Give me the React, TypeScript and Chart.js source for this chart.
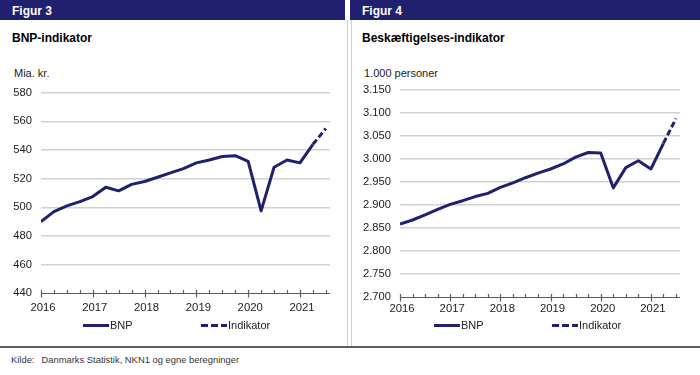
import React, { useEffect, useRef } from "react";
import { Chart, registerables } from "chart.js";

Chart.register(...registerables);

// ---------- data ----------
const QUARTERS = [
  "2016K1", "2016K2", "2016K3", "2016K4",
  "2017K1", "2017K2", "2017K3", "2017K4",
  "2018K1", "2018K2", "2018K3", "2018K4",
  "2019K1", "2019K2", "2019K3", "2019K4",
  "2020K1", "2020K2", "2020K3", "2020K4",
  "2021K1", "2021K2", "2021K3",
];

// Figur 3: BNP, mia. kr.
const GDP_BNP = [
  490, 497, 501, 504,
  507.5, 514, 511.5, 516,
  518, 521, 524, 527,
  531, 533, 535.5, 536,
  532, 497.5, 528, 533,
  531, 544, null,
];
const GDP_INDIKATOR = [
  null, null, null, null,
  null, null, null, null,
  null, null, null, null,
  null, null, null, null,
  null, null, null, null,
  null, 544, 555,
];
const GDP_Y_TICKS = [440, 460, 480, 500, 520, 540, 560, 580];

// Figur 4: Beskæftigelse, 1.000 personer
const EMP_BNP = [
  2858, 2867, 2878, 2890,
  2901, 2909, 2918, 2925,
  2938, 2948, 2959, 2969,
  2978, 2989, 3004, 3014,
  3013, 2937, 2981, 2996,
  2978, 3034, null,
];
const EMP_INDIKATOR = [
  null, null, null, null,
  null, null, null, null,
  null, null, null, null,
  null, null, null, null,
  null, null, null, null,
  null, 3034, 3088,
];
const EMP_Y_TICKS = [2700, 2750, 2800, 2850, 2900, 2950, 3000, 3050, 3100, 3150];

const YEAR_LABELS = ["2016", "2017", "2018", "2019", "2020", "2021"];
const SERIES_NAMES = ["BNP", "Indikator"];
const SOURCE = "Danmarks Statistik, NKN1 og egne beregninger";

// ---------- style ----------
const NAVY = "#20206e";
const FONT = "'Liberation Sans', Arial, Helvetica, sans-serif";
const GRID = "#d2d2d2";
const AXIS = "#5a5a72";
const TEXT = "#222222";

function quarterToX(q: string): number {
  const year = parseInt(q.slice(0, 4), 10);
  const k = parseInt(q.slice(5), 10);
  return year + (k - 1) / 4;
}

const axisPlugin = {
  id: "excelAxis",
  afterDraw(chart: any) {
    const { ctx, chartArea, scales } = chart;
    const xs = scales.x;
    const y = Math.round(chartArea.bottom) + 0.5;
    ctx.save();
    ctx.strokeStyle = AXIS;
    ctx.lineWidth = 1.2;
    ctx.beginPath();
    ctx.moveTo(chartArea.left, y);
    ctx.lineTo(chartArea.right, y);
    ctx.stroke();
    let i = 0;
    for (let v = xs.min; v <= xs.max + 1e-9; v += 0.25, i++) {
      const px = Math.round(xs.getPixelForValue(v)) + 0.5;
      ctx.beginPath();
      if (i % 4 === 0) {
        ctx.moveTo(px, y - 3.5);
        ctx.lineTo(px, y + 4);
      } else {
        ctx.moveTo(px, y - 3.5);
        ctx.lineTo(px, y);
      }
      ctx.stroke();
    }
    ctx.restore();
  },
};

type PanelChartProps = {
  bnp: (number | null)[];
  indikator: (number | null)[];
  yTicks: number[];
  format: (v: number) => string;
  width: number;
  height: number;
  yWidth: number;
  xHeight: number;
  xPad: number;
  padTop: number;
  padRight: number;
};

function PanelChart(p: PanelChartProps) {
  const ref = useRef<HTMLCanvasElement | null>(null);
  useEffect(() => {
    if (!ref.current) return;
    const xs = QUARTERS.map(quarterToX);
    const yMin = p.yTicks[0];
    const yMax = p.yTicks[p.yTicks.length - 1];
    const step = p.yTicks[1] - p.yTicks[0];
    const firstYear = parseInt(YEAR_LABELS[0], 10);
    const chart = new Chart(ref.current, {
      type: "line",
      data: {
        datasets: [
          {
            label: SERIES_NAMES[0],
            data: xs.map((x, i) => ({ x, y: p.bnp[i] })) as any,
            borderColor: NAVY,
            borderWidth: 3,
            pointRadius: 0,
            tension: 0,
            borderJoinStyle: "round",
            spanGaps: false,
          },
          {
            label: SERIES_NAMES[1],
            data: xs.map((x, i) => ({ x, y: p.indikator[i] })) as any,
            borderColor: NAVY,
            borderWidth: 3,
            borderDash: [6, 3],
            pointRadius: 0,
            tension: 0,
            spanGaps: false,
          },
        ],
      },
      options: {
        animation: false,
        responsive: false,
        devicePixelRatio: 1,
        layout: { padding: { top: p.padTop, right: p.padRight, left: 0, bottom: 0 } },
        plugins: { legend: { display: false }, tooltip: { enabled: false } },
        events: [],
        scales: {
          x: {
            type: "linear",
            min: firstYear,
            max: firstYear + 5.58,
            grid: { display: false, drawTicks: false },
            border: { display: false },
            ticks: {
              stepSize: 1,
              includeBounds: false,
              autoSkip: false,
              maxRotation: 0,
              padding: p.xPad,
              labelOffset: 2,
              color: TEXT,
              font: { family: FONT, size: 11.3 },
              callback: (v: any) => {
                const s = String(v);
                return YEAR_LABELS.includes(s) ? s : "";
              },
            },
            afterFit: (s: any) => {
              s.height = p.xHeight;
            },
          },
          y: {
            type: "linear",
            min: yMin,
            max: yMax,
            grid: {
              drawTicks: true,
              tickLength: 9,
              tickColor: "rgba(0,0,0,0)",
              lineWidth: 1.4,
              color: (c: any) => (c.tick && c.tick.value === yMin ? "rgba(0,0,0,0)" : GRID),
            },
            border: { display: false },
            ticks: {
              stepSize: step,
              padding: 0,
              color: TEXT,
              font: { family: FONT, size: 11.2 },
              callback: (v: any) => p.format(Number(v)),
            },
            afterFit: (s: any) => {
              s.width = p.yWidth;
            },
          },
        },
      },
      plugins: [axisPlugin],
    });
    return () => chart.destroy();
  }, []);
  return (
    <canvas
      ref={ref}
      width={p.width}
      height={p.height}
      style={{ width: p.width, height: p.height, display: "block" }}
    />
  );
}

function LegendLine({ dashed }: { dashed: boolean }) {
  return (
    <div
      style={{
        position: "absolute",
        top: -1.5,
        left: 0,
        width: 26,
        height: 3,
        background: dashed
          ? `repeating-linear-gradient(90deg, ${NAVY} 0px, ${NAVY} 7px, transparent 7px, transparent 10px)`
          : NAVY,
      }}
    />
  );
}

type PanelProps = {
  left: number;
  width: number;
  fig: string;
  title: string;
  unit: string;
  legendX: [number, number];
  chart: PanelChartProps;
};

function Panel(p: PanelProps) {
  const txt = (extra: React.CSSProperties): React.CSSProperties => ({
    position: "absolute",
    fontFamily: FONT,
    whiteSpace: "nowrap",
    ...extra,
  });
  return (
    <div style={{ position: "absolute", left: p.left, top: 0, width: p.width, height: 346 }}>
      <div style={{ position: "absolute", left: 0, top: 0, width: p.width, height: 20, background: NAVY }} />
      <div style={txt({ left: 12, top: 4, fontSize: 12, lineHeight: "14px", fontWeight: "bold", color: "#fff" })}>
        {p.fig}
      </div>
      <div style={txt({ left: 12, top: 31, fontSize: 12, lineHeight: "14px", fontWeight: "bold", color: "#000" })}>
        {p.title}
      </div>
      <div style={txt({ left: 14, top: 66.7, fontSize: 11, lineHeight: "13px", color: TEXT })}>{p.unit}</div>
      <div style={{ position: "absolute", left: 0, top: 80 }}>
        <PanelChart {...p.chart} />
      </div>
      {SERIES_NAMES.map((name, i) => (
        <div key={name} style={{ position: "absolute", left: p.legendX[i], top: 325.7 }}>
          <LegendLine dashed={i === 1} />
          <div style={txt({ left: 27, top: -6.5, fontSize: 11, lineHeight: "13px", color: TEXT })}>{name}</div>
        </div>
      ))}
    </div>
  );
}

export default function App() {
  useEffect(() => {
    document.body.style.margin = "0";
  }, []);
  const gdpFmt = (v: number) => String(v);
  const empFmt = (v: number) => (v / 1000).toFixed(3);
  return (
    <div style={{ position: "absolute", left: 0, top: 0, width: 700, height: 375, background: "#fff", overflow: "hidden" }}>
      <Panel
        left={0}
        width={345}
        fig="Figur 3"
        title="BNP-indikator"
        unit="Mia. kr."
        legendX={[83, 201]}
        chart={{
          bnp: GDP_BNP,
          indikator: GDP_INDIKATOR,
          yTicks: GDP_Y_TICKS,
          format: gdpFmt,
          width: 345,
          height: 240,
          yWidth: 41,
          xHeight: 26.7,
          xPad: 7.5,
          padTop: 12.7,
          padRight: 15,
        }}
      />
      <Panel
        left={350}
        width={350}
        fig="Figur 4"
        title="Beskæftigelses-indikator"
        unit="1.000 personer"
        legendX={[84, 202]}
        chart={{
          bnp: EMP_BNP,
          indikator: EMP_INDIKATOR,
          yTicks: EMP_Y_TICKS,
          format: empFmt,
          width: 350,
          height: 240,
          yWidth: 50,
          xHeight: 23.3,
          xPad: 5.5,
          padTop: 10,
          padRight: 20,
        }}
      />
      <div style={{ position: "absolute", left: 347, top: 20, width: 1, height: 326, background: "#cfcfcf" }} />
      <div style={{ position: "absolute", left: 351, top: 20, width: 1, height: 326, background: "#cfcfcf" }} />
      <div style={{ position: "absolute", left: 0, top: 345.5, width: 700, height: 2, background: "#5e5e5e" }} />
      <div style={{ position: "absolute", left: 11, top: 353.5, fontFamily: FONT, fontSize: 9.4, lineHeight: "12px", color: "#333", whiteSpace: "nowrap" }}>
        Kilde:
      </div>
      <div style={{ position: "absolute", left: 41.5, top: 353.5, fontFamily: FONT, fontSize: 9.4, lineHeight: "12px", color: "#333", whiteSpace: "nowrap" }}>
        {SOURCE}
      </div>
    </div>
  );
}
